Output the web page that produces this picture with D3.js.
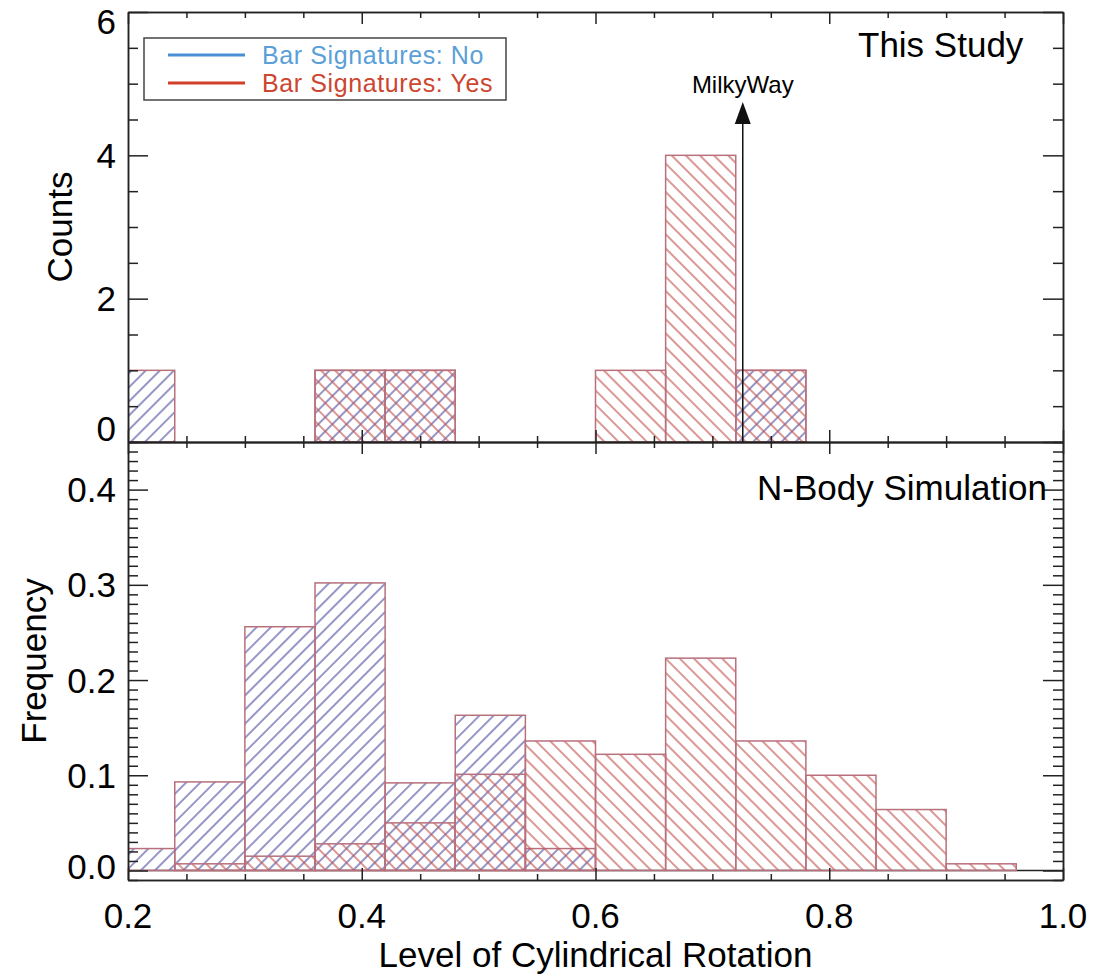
<!DOCTYPE html>
<meta charset="utf-8">
<head>
    <script src="https://d3js.org/d3.v7.min.js"></script>
    <style>
    body { margin: 0; background: white; }
    svg { background: white; font-family: "Liberation Sans", Arial, sans-serif; }
    .axis path, .axis line { stroke: #222; stroke-width: 1.5; }
    </style>
</head>
<body>
<svg id="svgid" width="1095" height="975"></svg>
<script>
// bins: left edges, each 0.06 wide
var binStarts = [0.18, 0.24, 0.30, 0.36, 0.42, 0.48, 0.54, 0.60, 0.66, 0.72, 0.78, 0.84, 0.90];
var binWidth = 0.06;

// This Study (counts)
var studyNo  = [1, 0, 0, 1, 1, 0, 0, 0, 0, 1, 0, 0, 0];
var studyYes = [0, 0, 0, 1, 1, 0, 0, 1, 4, 1, 0, 0, 0];

// N-Body Simulation (frequency)
var simNo  = [0.023, 0.093, 0.256, 0.302, 0.092, 0.163, 0.023, 0, 0, 0, 0, 0, 0];
var simYes = [0, 0.007, 0.015, 0.028, 0.050, 0.101, 0.136, 0.122, 0.223, 0.136, 0.100, 0.064, 0.007];

var xTicks = [0.2, 0.4, 0.6, 0.8, 1.0];
var xMinor = [0.25, 0.3, 0.35, 0.45, 0.5, 0.55, 0.65, 0.7, 0.75, 0.85, 0.9, 0.95];
var countTicks = [0, 2, 4, 6];
var countMinor = [0.5, 1, 1.5, 2.5, 3, 3.5, 4.5, 5, 5.5];
var freqTicks = [0.0, 0.1, 0.2, 0.3, 0.4];
var milkyWay = 0.726;

var svg = d3.select("#svgid");
var L = 128, R = 1063, T1 = 12, B1 = 442, T2 = 442, B2 = 880;

var x = d3.scaleLinear().domain([0.2, 1.0]).range([L, R]);
var yTop = d3.scaleLinear().domain([0, 6]).range([B1, T1]);
var yBot = d3.scaleLinear().domain([-0.01, 0.45]).range([B2, T2]);

// minor ticks on the frequency axis every 0.01
var freqMinor = d3.range(-0.01, 0.455, 0.01).filter(function(v) {
    return Math.abs(v * 10 - Math.round(v * 10)) > 1e-6;
});

var defs = svg.append("defs");
function hatch(id, color, angle) {
    var p = defs.append("pattern")
        .attr("id", id)
        .attr("patternUnits", "userSpaceOnUse")
        .attr("width", 10).attr("height", 10)
        .attr("patternTransform", "rotate(" + angle + ")");
    p.append("line")
        .attr("x1", 5).attr("y1", -1).attr("x2", 5).attr("y2", 11)
        .attr("stroke", color).attr("stroke-width", 1.2);
}
hatch("hNo", "#4f4fa3", 45);
hatch("hYes", "#c4524c", -45);

defs.append("clipPath").attr("id", "clipTop")
    .append("rect").attr("x", L).attr("y", T1).attr("width", R - L).attr("height", B1 - T1);
defs.append("clipPath").attr("id", "clipBot")
    .append("rect").attr("x", L).attr("y", T2).attr("width", R - L).attr("height", B2 - T2);

function bars(clip, y, vals, fill) {
    svg.append("g").attr("clip-path", "url(#" + clip + ")")
        .selectAll("rect")
        .data(binStarts.map(function(s, i) { return {s: s, v: vals[i]}; })
              .filter(function(d) { return d.v > 0; }))
        .enter().append("rect")
        .attr("x", function(d) { return x(d.s); })
        .attr("width", function(d) { return x(d.s + binWidth) - x(d.s); })
        .attr("y", function(d) { return y(d.v); })
        .attr("height", function(d) { return y(0) - y(d.v); })
        .attr("fill", fill)
        .attr("stroke", "#b8707c")
        .attr("stroke-width", 1.5);
}

// zero line of the simulation histogram
svg.append("line")
    .attr("x1", x(0.2)).attr("x2", x(1.0))
    .attr("y1", yBot(0)).attr("y2", yBot(0))
    .attr("stroke", "#222").attr("stroke-width", 1.5);

bars("clipTop", yTop, studyNo, "url(#hNo)");
bars("clipTop", yTop, studyYes, "url(#hYes)");
bars("clipBot", yBot, simNo, "url(#hNo)");
bars("clipBot", yBot, simYes, "url(#hYes)");

// axes, ticks inward on all four sides
function frame(y, top, bottom, yMajor, yMinor) {
    var a = [
        [d3.axisBottom(x), "translate(0," + bottom + ")", xTicks, 12],
        [d3.axisBottom(x), "translate(0," + bottom + ")", xMinor, 6],
        [d3.axisTop(x), "translate(0," + top + ")", xTicks, 12],
        [d3.axisTop(x), "translate(0," + top + ")", xMinor, 6],
        [d3.axisLeft(y), "translate(" + L + ",0)", yMajor, 20],
        [d3.axisLeft(y), "translate(" + L + ",0)", yMinor, 10],
        [d3.axisRight(y), "translate(" + R + ",0)", yMajor, 20],
        [d3.axisRight(y), "translate(" + R + ",0)", yMinor, 10]
    ];
    a.forEach(function(d) {
        svg.append("g").attr("class", "axis")
            .attr("transform", d[1])
            .call(d[0].tickValues(d[2]).tickSize(-d[3]).tickSizeOuter(0).tickFormat(""));
    });
}
frame(yTop, T1, B1, countTicks, countMinor);
frame(yBot, T2, B2, freqTicks, freqMinor);

// tick labels
function clamp(v, lo, hi) { return Math.max(lo, Math.min(hi, v)); }
svg.selectAll(".ctl").data(countTicks).enter().append("text")
    .attr("x", 116).attr("y", function(d) { return clamp(yTop(d), T1 + 9, B1 - 14); })
    .attr("text-anchor", "end").attr("dominant-baseline", "central")
    .style("font-size", "35px").text(function(d) { return d; });
svg.selectAll(".ftl").data(freqTicks).enter().append("text")
    .attr("x", 116).attr("y", function(d) { return clamp(yBot(d), T2 + 9, B2 - 14); })
    .attr("text-anchor", "end").attr("dominant-baseline", "central")
    .style("font-size", "35px").text(function(d) { return d3.format(".1f")(d); });
svg.selectAll(".xtl").data(xTicks).enter().append("text")
    .attr("x", function(d) { return x(d); }).attr("y", 928)
    .attr("text-anchor", "middle")
    .style("font-size", "35px").text(function(d) { return d3.format(".1f")(d); });

// axis titles
svg.append("text").attr("text-anchor", "middle").style("font-size", "35px")
    .attr("transform", "translate(" + (L + R) / 2 + ",967)")
    .text("Level of Cylindrical Rotation");
svg.append("text").attr("text-anchor", "middle").style("font-size", "35px")
    .attr("transform", "translate(72," + (T1 + B1) / 2 + ") rotate(-90)")
    .text("Counts");
svg.append("text").attr("text-anchor", "middle").style("font-size", "35px")
    .attr("transform", "translate(46," + (T2 + B2) / 2 + ") rotate(-90)")
    .text("Frequency");

// panel labels
svg.append("text").attr("x", 858).attr("y", 57).style("font-size", "35px").text("This Study");
svg.append("text").attr("x", 757).attr("y", 500).style("font-size", "35px").text("N-Body Simulation");

// Milky Way arrow
var mx = x(milkyWay);
svg.append("line").attr("x1", mx).attr("x2", mx).attr("y1", yTop(0)).attr("y2", 122)
    .attr("stroke", "#111").attr("stroke-width", 1.5);
svg.append("path")
    .attr("d", "M" + mx + ",102 L" + (mx - 8) + ",124 L" + (mx + 8) + ",124 Z")
    .attr("fill", "#111");
svg.append("text").attr("x", mx).attr("y", 93).attr("text-anchor", "middle")
    .style("font-size", "24px").text("MilkyWay");

// legend
var lg = svg.append("g");
lg.append("rect").attr("x", 144).attr("y", 38).attr("width", 362).attr("height", 62)
    .attr("fill", "white").attr("stroke", "#444").attr("stroke-width", 1.5);
var legendItems = [["Bar Signatures: No", "#4a8fd6", "#5a9fd8"], ["Bar Signatures: Yes", "#d23f28", "#cc4630"]];
legendItems.forEach(function(d, i) {
    var yy = 55 + i * 28;
    lg.append("line").attr("x1", 168).attr("x2", 245).attr("y1", yy).attr("y2", yy)
        .attr("stroke", d[1]).attr("stroke-width", 3);
    lg.append("text").attr("x", 262).attr("y", yy).attr("dominant-baseline", "central")
        .style("font-size", "25px").style("letter-spacing", "0.6px")
        .attr("fill", d[2]).text(d[0]);
});
</script>
</body>
